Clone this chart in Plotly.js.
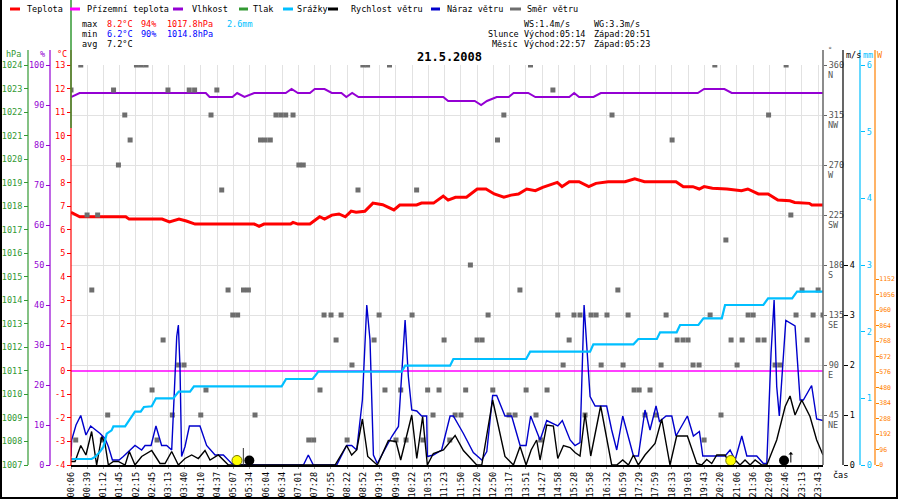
<!DOCTYPE html>
<html>
<head>
<meta charset="utf-8">
<script src="https://cdn.plot.ly/plotly-3.0.1.min.js"></script>
<style>
html, body { margin: 0; padding: 0; background: #fff; }
#graf { width: 900px; height: 500px; }
</style>
</head>
<body>
<div id="graf"></div>
<script>
// casove popisky osy x (jedna pozice = jeden popisek)
var timeLabels = ['00:06', '00:39', '01:12', '01:45', '02:15', '02:45', '03:13', '03:40', '04:10', '04:37',
    '05:07', '05:34', '06:04', '06:34', '07:01', '07:28', '07:55', '08:22', '08:52', '09:19', '09:49',
    '10:22', '10:53', '11:23', '11:50', '12:20', '12:50', '13:17', '13:51', '14:27', '14:58', '15:28',
    '15:58', '16:32', '16:59', '17:29', '17:59', '18:33', '19:03', '19:43', '20:20', '21:06', '21:36',
    '22:09', '22:46', '23:13', '23:43'];

// teplota [°C]
var tempX = [0, 0.54, 3.37, 3.58, 5.61, 6.06, 6.65, 7.10, 7.64, 11.28, 11.58, 11.88, 13.52, 13.67, 13.97, 14.71,
    15.31, 15.61, 16.06, 16.5, 16.89, 17.25, 17.55, 18.09, 18.59, 19.19, 19.88, 20.24, 21.28, 21.58, 22.32,
    22.92, 23.22, 23.67, 24.35, 25.01, 25.55, 26.06, 26.65, 27.1, 27.55, 28.06, 28.59, 29.04, 29.94, 30.23,
    30.68, 31.28, 31.88, 32.32, 33.07, 34.11, 34.71, 35.31, 37.25, 37.7, 38.29, 38.68, 38.98, 39.49, 40.38,
    41.28, 41.67, 42.32, 42.92, 43.52, 44.26, 44.56, 45.46, 45.61, 46.3];
var tempY = [6.74, 6.55, 6.55, 6.45, 6.45, 6.33, 6.45, 6.37, 6.24, 6.24, 6.14, 6.24, 6.24, 6.31, 6.24, 6.24,
    6.55, 6.45, 6.62, 6.67, 6.55, 6.79, 6.74, 6.78, 7.13, 7.06, 6.84, 7.05, 7.05, 7.13, 7.13,
    7.43, 7.26, 7.38, 7.38, 7.73, 7.73, 7.52, 7.38, 7.47, 7.52, 7.73, 7.66, 7.80, 8.01, 7.83,
    8.04, 8.04, 7.83, 7.97, 8.04, 8.04, 8.16, 8.04, 8.04, 7.83, 7.83, 7.73, 7.83, 7.76, 7.73,
    7.66, 7.73, 7.52, 7.52, 7.26, 7.23, 7.16, 7.12, 7.05, 7.05];

// prizemni teplota [°C]
var groundX = [0, 46.3];
var groundY = [0, 0];

// vlhkost [%]
var humX = [0, 0.53, 8.30, 8.53, 9.94, 10.23, 10.68, 11.28, 13.22, 13.58, 13.97, 14.71, 15.01, 15.61, 16.06,
    16.65, 16.95, 17.31, 17.70, 22.92, 23.22, 24.86, 25.25, 25.61, 26.21, 26.95, 27.25, 28.15, 28.59, 30.68,
    30.98, 31.28, 32.17, 32.62, 38.59, 38.98, 40.23, 40.68, 46.3];
var humY = [92, 93, 93, 92, 92, 93, 92, 93, 93, 94, 93, 93, 94, 94, 93,
    93, 92, 93, 92, 92, 91, 91, 90, 91, 92, 92, 93, 93, 92, 92,
    93, 92, 92, 93, 93, 94, 94, 93, 93];

// tlak [hPa] - v grafu neni vykreslen
var presX = [];
var presY = [];

// slunecni zareni [W] - v grafu neni vykresleno
var solarX = [];
var solarY = [];

// srazky kumulativne [mm]
var rainX = [0, 1.27, 1.48, 1.79, 1.99, 2.2, 2.5, 2.61, 3.33, 3.53, 3.74, 3.94, 4.29, 4.49, 4.97, 5.23, 6.3,
    6.47, 6.63, 7.33, 7.57, 12.97, 13.24, 14.88, 15.23, 20.36, 20.57, 23.34, 23.54, 28.02, 28.27, 31.96,
    32.16, 34.63, 34.93, 36.07, 36.27, 37.29, 37.5, 38.63, 38.94, 40.07, 40.27, 42.63, 42.92, 44.4, 44.7, 46.3];
var rainY = [0.09, 0.09, 0.12, 0.2, 0.27, 0.47, 0.52, 0.58, 0.58, 0.65, 0.72, 0.8, 0.8, 0.87, 0.88, 1.0, 1.0,
    1.05, 1.1, 1.1, 1.18, 1.18, 1.29, 1.29, 1.4, 1.4, 1.49, 1.49, 1.59, 1.59, 1.7, 1.7,
    1.81, 1.81, 1.89, 1.89, 1.99, 1.99, 2.1, 2.1, 2.2, 2.2, 2.4, 2.4, 2.5, 2.5, 2.6, 2.6];

// naraz vetru [m/s]
var gustX = [0, 0.04, 0.31, 0.6, 0.92, 1.21, 1.79, 2.09, 2.3, 2.55, 2.96, 3.22, 3.94, 4.35, 4.56, 4.93, 5.23,
    5.58, 5.89, 6.2, 6.34, 6.51, 6.61, 6.71, 6.81, 7.02, 7.29, 7.94, 8.35, 8.87, 9.38, 9.89, 10.2, 14.31,
    14.61, 14.92, 16.36, 16.97, 17.28, 17.59, 17.94, 18.21, 18.41, 18.62, 18.86, 19.75, 20.16, 20.36, 20.57,
    20.77, 20.98, 21.29, 21.59, 21.9, 21.94, 22.31, 22.82, 23.34, 23.54, 24.16, 24.77, 25.29, 25.6, 25.96,
    26.21, 26.72, 27.13, 27.65, 28.02, 28.3, 28.88, 29.29, 29.97, 30.25, 30.73, 31.03, 31.34, 31.59, 31.75,
    31.96, 32.27, 32.98, 33.29, 33.6, 33.97, 34.63, 34.93, 35.34, 35.65, 36.02, 36.23, 36.64, 36.99, 37.25,
    37.95, 38.32, 38.69, 38.9, 40.27, 40.58, 40.89, 41.3, 41.61, 42.22, 42.63, 42.84, 43.1, 43.29, 43.45,
    43.61, 44.01, 44.58, 44.89, 45.09, 45.6, 45.91, 46.3];
var gustY = [0.17, 0.5, 0.8, 0.99, 0.6, 0.78, 0.63, 0.53, 0.37, 0.1, 0.1, 0.17, 0.39, 0.3, 0.39, 0.39, 0.78,
    0.39, 0.39, 0.3, 1.3, 2.57, 2.8, 1.97, 0.17, 0.37, 0.78, 0.78, 0.39, 0.2, 0.2, 0.03, 0, 0,
    0.2, 0, 0, 0.39, 0.39, 0.3, 1.3, 3.2, 2.5, 0.2, 0.03, 0.57, 0.77, 1.77, 2.9,
    1.77, 1.1, 1.08, 0.98, 0.98, 0.17, 0.2, 0.3, 0.98, 0.98, 0.63, 0.25, 0.1, 0.27, 1.39,
    1.39, 0.98, 0.98, 0.39, 0.39, 0.98, 0.5, 0.89, 0.78, 0.89, 0.5, 0.39, 0.45, 3.2, 2.37,
    1.37, 1.18, 1.18, 0.7, 0.3, 0.98, 0.18, 0.18, 1.1, 0.7, 1.18, 0.87, 0.98, 0.98, 0.58,
    0.98, 0.58, 0.67, 0.18, 0.18, 0.3, 0.1, 0.58, 0.18, 0.18, 0.03, 0.03, 2.23, 3.3, 1.57,
    0.98, 2.89, 2.78, 1.3, 1.3, 1.59, 0.92, 0.89];

// rychlost vetru [m/s]
var windX = [0, 0.25, 0.6, 0.92, 1.27, 1.58, 1.89, 2.09, 2.3, 2.61, 2.91, 3.33, 3.59, 3.94, 4.35, 4.97, 5.48,
    5.79, 6.2, 6.61, 7.02, 7.43, 7.84, 8.25, 8.56, 9.07, 9.69, 16.26, 16.97, 17.28, 17.59, 17.94, 18.27,
    18.86, 19.54, 20.01, 20.3, 20.98, 21.29, 21.65, 21.94, 22.31, 22.93, 23.65, 24.16, 24.77, 24.98, 25.29,
    25.96, 26.21, 26.72, 27.24, 27.65, 28.02, 28.33, 28.67, 28.88, 29.29, 29.7, 29.97, 30.32, 30.73, 31.03,
    31.34, 31.65, 32.0, 32.61, 33.29, 33.6, 33.97, 34.32, 34.63, 34.93, 35.34, 35.96, 36.37, 36.88, 37.29,
    37.95, 38.53, 38.83, 39.14, 39.45, 39.76, 40.27, 40.58, 40.89, 41.19, 41.5, 41.81, 42.12, 42.53, 42.84,
    43.45, 43.97, 44.27, 44.58, 44.99, 45.5, 45.91, 46.3];
var windY = [0.07, 0.07, 0.39, 0.2, 0.67, 0, 0.57, 0.43, 0, 0.07, 0.07, 0, 0.27, 0, 0.17, 0.29, 0.03,
    0.03, 0.27, 0, 0.13, 0.2, 0.13, 0.29, 0.1, 0.2, 0, 0, 0.39, 0.2, 0.3, 0.92, 0.17,
    0, 0.49, 0.47, 0.1, 1.0, 0.13, 0.97, 0, 0.23, 0.3, 0.59, 0.29, 0.07, 0, 0,
    1.3, 0.93, 0.17, 0, 0.37, 0, 0.3, 0.5, 0.1, 0.8, 0.78, 0.13, 0.39, 0.35, 0.25,
    0.18, 1.03, 0.18, 1.18, 0, 0, 0.1, 0, 0.2, 0, 0.2, 0.43, 0.92, 0, 0.58,
    0.58, 0.03, 0, 0.11, 0.03, 0.2, 0.2, 0, 0.1, 0, 0.1, 0, 0.1, 0, 0,
    0.5, 1.17, 1.38, 1.0, 1.3, 0.97, 0.5, 0.2];

// smer vetru [°]
var dirX = [0.60, 4.03, 4.33, 4.62, 17.97, 18.26, 19.61, 28.29, 39.64, 44.03,
    0.0, 2.62, 5.97, 7.28, 7.61, 8.98, 29.67,
    3.31, 8.62, 12.62, 12.92, 13.22, 13.67, 26.65, 33.31, 42.95,
    3.64, 11.67, 11.96, 12.27, 26.26, 37.01,
    2.92, 14.03, 14.30,
    9.28, 17.67, 21.28,
    0.99, 1.64, 44.32,
    40.32,
    24.59,
    1.28, 9.67, 10.62, 10.92, 27.64, 33.67, 45.01, 46.0,
    9.96, 10.26, 15.58, 16.01, 16.63, 18.97, 21.0, 25.68, 29.97, 30.97, 31.34, 32.02, 32.33, 33.0, 34.3,
    36.64, 39.35, 41.69, 42.0, 44.64, 45.69, 46.3,
    5.67, 16.32, 18.66, 22.97, 25.0, 25.31, 30.67, 37.32, 37.68, 37.99, 40.64, 41.32, 42.3, 42.67, 45.32,
    6.63, 6.96, 17.3, 30.3, 32.64, 33.99, 36.33, 38.3, 38.67, 41.01, 43.35, 43.66,
    4.99, 8.31, 15.33, 19.33, 20.3, 21.96, 22.66, 24.3, 25.97, 28.02, 29.31, 34.67, 34.98, 35.65,
    2.26, 6.24, 7.99, 11.33, 22.29, 23.65, 24.01, 26.97, 27.34, 28.63, 31.65, 35.34, 36.02, 40.02,
    0.29, 1.93, 5.3, 14.64, 14.94, 17.0, 20.01, 20.63, 21.67, 23.32, 28.92, 38.98];
var dirY = [360, 360, 360, 360, 360, 360, 360, 360, 360, 360,
    337.5, 337.5, 337.5, 337.5, 337.5, 337.5, 337.5,
    315, 315, 315, 315, 315, 315, 315, 315, 315,
    292.5, 292.5, 292.5, 292.5, 292.5, 292.5,
    270, 270, 270,
    247.5, 247.5, 247.5,
    225, 225, 225,
    202.5,
    180,
    157.5, 157.5, 157.5, 157.5, 157.5, 157.5, 157.5, 157.5,
    135, 135, 135, 135, 135, 135, 135, 135, 135, 135, 135, 135, 135, 135, 135,
    135, 135, 135, 135, 135, 135, 135,
    112.5, 112.5, 112.5, 112.5, 112.5, 112.5, 112.5, 112.5, 112.5, 112.5, 112.5, 112.5, 112.5, 112.5, 112.5,
    90, 90, 90, 90, 90, 90, 90, 90, 90, 90, 90, 90,
    67.5, 67.5, 67.5, 67.5, 67.5, 67.5, 67.5, 67.5, 67.5, 67.5, 67.5, 67.5, 67.5, 67.5,
    45, 45, 45, 45, 45, 45, 45, 45, 45, 45, 45, 45, 45, 45,
    22.5, 22.5, 22.5, 22.5, 22.5, 22.5, 22.5, 22.5, 22.5, 22.5, 22.5, 22.5];

// slunce a mesic (vychod/zapad)
var sunX = [10.22, 40.62];
var moonX = [10.98, 43.9];

// popisky os
var tempTicks = [-4, -3, -2, -1, 0, 1, 2, 3, 4, 5, 6, 7, 8, 9, 10, 11, 12, 13];
var dirTicks = [45, 90, 135, 180, 225, 270, 315, 360];
var dirCompass = ['NE', 'E', 'SE', 'S', 'SW', 'W', 'NW', 'N'];
var wattTicks = [0, 96, 192, 288, 384, 480, 576, 672, 768, 864, 960, 1056, 1152];

var MONO = '"DejaVu Sans Mono", monospace';
var C_TEMP = '#ff0000', C_GROUND = '#ff00ff', C_HUM = '#9400d3', C_PRES = '#339933',
    C_RAIN = '#00bfff', C_WIND = '#000000', C_GUST = '#0000cc', C_DIR = '#6e6e6e', C_WATT = '#ff8000';

// prepocet pixelu na souradnice papiru (plocha grafu 71..823 x 65..465)
function px(p) { return p / 900; }
function py(p) { return (465 - p) / 400; }

var traces = [
    { x: presX, y: presY, yaxis: 'y3', mode: 'lines', line: { color: C_PRES, width: 1.5 } },
    { x: solarX, y: solarY, yaxis: 'y7', mode: 'lines', line: { color: C_WATT, width: 1.5 } },
    { x: rainX, y: rainY, yaxis: 'y6', mode: 'lines', line: { color: C_RAIN, width: 2.2 } },
    { x: gustX, y: gustY, yaxis: 'y5', mode: 'lines', line: { color: C_GUST, width: 1.4 } },
    { x: windX, y: windY, yaxis: 'y5', mode: 'lines', line: { color: C_WIND, width: 1.4 } },
    { x: groundX, y: groundY, yaxis: 'y', mode: 'lines', line: { color: C_GROUND, width: 1.5 } },
    { x: humX, y: humY, yaxis: 'y2', mode: 'lines', line: { color: C_HUM, width: 2 } },
    { x: tempX, y: tempY, yaxis: 'y', mode: 'lines', line: { color: C_TEMP, width: 3 } },
    { x: dirX, y: dirY, yaxis: 'y4', mode: 'markers', marker: { symbol: 'square', size: 5, color: C_DIR } },
    { x: sunX, y: sunX.map(function () { return 0.09; }), yaxis: 'y5', mode: 'markers',
      marker: { size: 10, color: '#ffff00', line: { color: '#777700', width: 1 } } },
    { x: moonX, y: moonX.map(function () { return 0.09; }), yaxis: 'y5', mode: 'markers',
      marker: { size: 10, color: '#000000' } }
];

function yAx(opts) {
    var base = {
        overlaying: 'y', anchor: 'free', showgrid: false, zeroline: false, showline: false,
        ticks: 'outside', ticklen: 4, fixedrange: true, automargin: false,
        tickfont: { family: MONO, size: 8.5 }
    };
    for (var k in opts) base[k] = opts[k];
    return base;
}

var layout = {
    width: 900, height: 500,
    margin: { l: 0, r: 0, t: 65, b: 35 },
    paper_bgcolor: '#ffffff', plot_bgcolor: '#ffffff',
    showlegend: false, hovermode: false,
    xaxis: {
        domain: [71 / 900, 823 / 900], range: [0, 46.3],
        tickvals: timeLabels.map(function (t, i) { return i; }), ticktext: timeLabels,
        tickangle: -90, tickfont: { family: MONO, size: 8.5, color: '#000' },
        showgrid: true, gridcolor: '#e2e2e2', gridwidth: 1,
        ticks: 'outside', ticklen: 2, tickcolor: '#999',
        showline: true, linecolor: '#000', linewidth: 1.5, zeroline: false, fixedrange: true
    },
    yaxis: {
        domain: [0, 1], range: [-4, 13], anchor: 'free', position: 71 / 900, side: 'left',
        tickvals: tempTicks, ticktext: tempTicks.map(String),
        color: C_TEMP, tickcolor: C_TEMP, ticks: 'outside', ticklen: 4,
        showgrid: false, zeroline: false, showline: false, fixedrange: true,
        tickfont: { family: MONO, size: 8.5, color: C_TEMP }
    },
    yaxis2: yAx({ range: [0, 100], dtick: 10, position: 50 / 900, side: 'left',
        tickcolor: C_HUM, tickfont: { family: MONO, size: 8.5, color: C_HUM } }),
    yaxis3: yAx({ range: [1007, 1024], dtick: 1, position: 28 / 900, side: 'left',
        tickcolor: C_PRES, tickfont: { family: MONO, size: 8.5, color: C_PRES } }),
    yaxis4: yAx({ range: [0, 360], position: 823 / 900, side: 'right',
        tickvals: dirTicks, ticktext: dirTicks.map(String), ticklen: 3,
        showgrid: true, gridcolor: '#e2e2e2', gridwidth: 1,
        tickcolor: '#666', tickfont: { family: MONO, size: 8.5, color: '#555' } }),
    yaxis5: yAx({ range: [0, 8], tickvals: [0, 1, 2, 3, 4], position: 843 / 900, side: 'right',
        tickcolor: '#000', tickfont: { family: MONO, size: 8.5, color: '#000' } }),
    yaxis6: yAx({ range: [0, 6], dtick: 1, position: 860 / 900, side: 'right',
        tickcolor: C_RAIN, tickfont: { family: MONO, size: 8.5, color: C_RAIN } }),
    yaxis7: yAx({ range: [0, 2480], tickvals: wattTicks, position: 875 / 900, side: 'right',
        ticklen: 3, ticklabelstandoff: -1,
        tickcolor: C_WATT, tickfont: { family: MONO, size: 6.5, color: C_WATT } }),
    shapes: [],
    annotations: []
};

// svisle cary os
[[28, C_PRES], [50, C_HUM], [71, C_TEMP], [823, '#666'], [843, '#000'], [860, C_RAIN], [875, C_WATT]].forEach(function (a) {
    layout.shapes.push({ type: 'line', xref: 'paper', yref: 'paper', x0: px(a[0]), x1: px(a[0]),
        y0: py(50), y1: py(465), line: { color: a[1], width: a[0] === 823 ? 1.5 : 1.2 } });
});
layout.shapes.push({ type: 'line', xref: 'paper', yref: 'paper', x0: px(71), x1: px(71),
    y0: py(0), y1: py(128), line: { color: C_PRES, width: 1.5 } });

// ramecek
layout.shapes.push({ type: 'line', xref: 'paper', yref: 'paper', x0: px(1), x1: px(1), y0: py(0), y1: py(499), line: { color: '#000', width: 2 } });
layout.shapes.push({ type: 'line', xref: 'paper', yref: 'paper', x0: px(897), x1: px(897), y0: py(0), y1: py(499), line: { color: '#000', width: 2 } });
layout.shapes.push({ type: 'line', xref: 'paper', yref: 'paper', x0: px(0), x1: px(898), y0: py(498), y1: py(498), line: { color: '#000', width: 2 } });

// mesic - vychod
layout.shapes.push({ type: 'line', xref: 'x', yref: 'y5', x0: 10.61, x1: 10.61, y0: 0, y1: 0.34, line: { color: '#333', width: 1 } });
layout.annotations.push({ x: 44.32, y: 0.26, xref: 'x', yref: 'y5', text: '', showarrow: true,
    ax: 0, ay: 12, arrowhead: 1, arrowsize: 0.8, arrowwidth: 1, arrowcolor: '#000' });

// svetove strany pod popisky smeru
dirTicks.forEach(function (d, i) {
    layout.annotations.push({ xref: 'paper', yref: 'y4', x: px(826), y: d, yshift: -10, text: dirCompass[i],
        showarrow: false, xanchor: 'left', yanchor: 'middle', font: { family: MONO, size: 8.5, color: '#555' } });
});

function txt(x, y, s, color, opts) {
    var a = { xref: 'paper', yref: 'paper', x: px(x), y: py(y), text: s, showarrow: false,
        xanchor: 'left', yanchor: 'middle', font: { family: MONO, size: 8.5, color: color || '#000' } };
    if (opts) for (var k in opts) a[k] = opts[k];
    layout.annotations.push(a);
}

// legenda
var legendItems = [
    ['Teplota', C_TEMP, 10, 20, 25], ['Přízemní teplota', C_GROUND, 70, 80, 85], ['Vlhkost', C_HUM, 173, 183, 190],
    ['Tlak', C_PRES, 239, 248, 251], ['Srážky', C_RAIN, 283, 293, 295], ['Rychlost větru', C_WIND, 328, 338, 349],
    ['Náraz větru', C_GUST, 431, 440, 445], ['Směr větru', C_DIR, 510, 521, 525]
];
legendItems.forEach(function (it) {
    layout.shapes.push({ type: 'line', xref: 'paper', yref: 'paper', x0: px(it[2]), x1: px(it[3]),
        y0: py(9), y1: py(9), line: { color: it[1], width: 3 } });
    txt(it[4], 9, it[0], '#000');
});

// statistiky
txt(80, 24, 'max'); txt(105, 24, '8.2°C', C_TEMP); txt(139, 24, '94%', C_TEMP);
txt(165, 24, '1017.8hPa', C_TEMP); txt(225, 24, '2.6mm', C_RAIN);
txt(80, 34, 'min'); txt(105, 34, '6.2°C', '#0000ff'); txt(139, 34, '90%', '#0000ff');
txt(165, 34, '1014.8hPa', '#0000ff');
txt(80, 44, 'avg'); txt(105, 44, '7.2°C');
txt(522, 24, 'WS:1.4m/s'); txt(592, 24, 'WG:3.3m/s');
txt(486, 34, 'Slunce'); txt(522, 34, 'Východ:05:14'); txt(592, 34, 'Západ:20:51');
txt(490, 44, 'Měsíc'); txt(522, 44, 'Východ:22:57'); txt(592, 44, 'Západ:05:23');

// titulek
layout.annotations.push({ xref: 'paper', yref: 'paper', x: px(449), y: py(57), text: '<b>21.5.2008</b>',
    showarrow: false, xanchor: 'center', yanchor: 'middle', font: { family: MONO, size: 12, color: '#000' } });

// jednotky os
txt(13, 54, 'hPa', C_PRES, { xanchor: 'center' });
txt(42, 54, '%', C_HUM, { xanchor: 'center' });
txt(62, 54, '°C', C_TEMP, { xanchor: 'center' });
txt(826, 50, '°', '#555', { xanchor: 'left', font: { family: MONO, size: 7, color: '#555' } });
txt(853, 55, 'm/s', '#000', { xanchor: 'center' });
txt(868, 55, 'mm', C_RAIN, { xanchor: 'center' });
txt(880, 55, 'W', C_WATT, { xanchor: 'center' });
txt(840, 475, 'čas', '#000', { xanchor: 'center' });

Plotly.newPlot('graf', traces, layout, { staticPlot: true, displayModeBar: false });
</script>
</body>
</html>
